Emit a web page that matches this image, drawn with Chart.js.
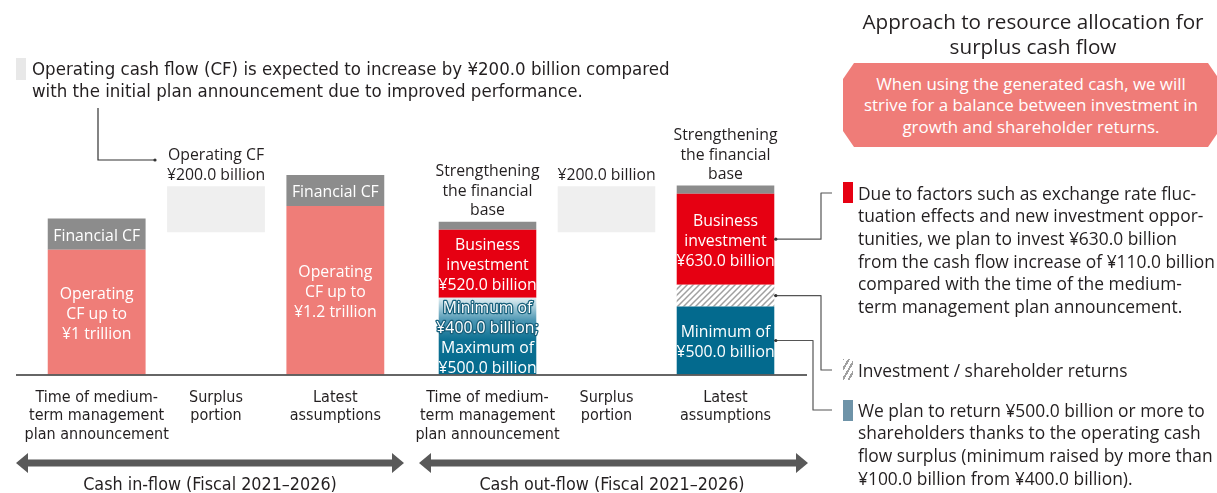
<!DOCTYPE html>
<html>
<head>
<meta charset="utf-8">
<script src="https://cdn.jsdelivr.net/npm/chart.js@4.4.1/dist/chart.umd.min.js"></script>
<style>
  body { margin: 0; width: 1217px; height: 493px; position: relative; overflow: hidden; background: #fff; color: #231f20; font-family: "Open Sans", sans-serif; }
  .abs { position: absolute; }
  .narrow { font-family: "DejaVu Sans Condensed", "Liberation Sans Narrow", sans-serif; }
  #note { left: 32px; top: 58px; font-size: 18.5px; line-height: 22px; white-space: nowrap; }
  #noteMark { left: 16px; top: 58px; width: 10px; height: 22px; background: #e8e8e8; }
  .flow { top: 473px; font-size: 17.8px; line-height: 22px; width: 390px; text-align: center; }
  #title { left: 843px; top: 9px; width: 380px; text-align: center; font-size: 20.7px; line-height: 25px; }
  #policy { left: 843px; top: 63px; width: 376px; height: 84px; background: #ef7c78; color: #fff;
    font-size: 16.9px; line-height: 21.5px; text-align: center; display: flex; align-items: center; justify-content: center;
    clip-path: polygon(11px 0, calc(100% - 11px) 0, 100% 16px, 100% calc(100% - 16px), calc(100% - 11px) 100%, 11px 100%, 0 calc(100% - 16px), 0 16px); }
  .mark { left: 843px; width: 10px; height: 21px; }
  .side { left: 858px; font-size: 17.4px; line-height: 22.7px; white-space: nowrap; }
</style>
</head>
<body>
<div style="position:absolute;left:0;top:0;"><canvas id="inflow" width="420" height="493"></canvas></div>
<div style="position:absolute;left:390px;top:0;"><canvas id="outflow" width="460" height="493"></canvas></div>

<svg class="abs" style="left:0;top:0" width="1217" height="493">
  <polyline points="98,108 98,160 155,160" fill="none" stroke="#333" stroke-width="1.2"/>
  <circle cx="155" cy="160" r="1.6" fill="#333"/>
  <line x1="16" y1="375" x2="807" y2="375" stroke="#333" stroke-width="1.5"/>
  <polygon points="16,463 28,453 28,459.5 392,459.5 392,453 404,463 392,473 392,466.5 28,466.5 28,473" fill="#595959"/>
  <polygon points="419,463 431,453 431,459.5 796,459.5 796,453 808,463 796,473 796,466.5 431,466.5 431,473" fill="#595959"/>
</svg>

<div id="noteMark" class="abs"></div>
<div id="note" class="abs narrow">Operating cash flow (CF) is expected to increase by ¥200.0 billion compared<br>with the initial plan announcement due to improved performance.</div>
<div class="abs narrow flow" style="left:15px">Cash in-flow (Fiscal 2021–2026)</div>
<div class="abs narrow flow" style="left:417px">Cash out-flow (Fiscal 2021–2026)</div>

<div id="title" class="abs">Approach to resource allocation for<br>surplus cash flow</div>
<div id="policy" class="abs"><div>When using the generated cash, we will<br>strive for a balance between investment in<br>growth and shareholder returns.</div></div>

<div class="abs mark" style="top:182px;background:#e60012"></div>
<div class="abs side" style="top:181.6px">Due to factors such as exchange rate fluc-<br>tuation effects and new investment oppor-<br>tunities, we plan to invest ¥630.0 billion<br>from the cash flow increase of ¥110.0 billion<br>compared with the time of the medium-<br>term management plan announcement.</div>
<div class="abs mark" style="top:359px;background:repeating-linear-gradient(-60deg,#fff 0 3px,#a0a0a0 3px 5px)"></div>
<div class="abs side" style="top:358.6px">Investment / shareholder returns</div>
<div class="abs mark" style="top:400px;background:#6e93a8"></div>
<div class="abs side" style="top:398.6px">We plan to return ¥500.0 billion or more to<br>shareholders thanks to the operating cash<br>flow surplus (minimum raised by more than<br>¥100.0 billion from ¥400.0 billion).</div>

<script>
// categories (same three stages on both sides)
const categories = [['Time of medium-', 'term management', 'plan announcement'], ['Surplus', 'portion'], ['Latest', 'assumptions']];

// bar heights, roughly in ¥ billion (the drawing is not to scale)
const inOperatingCF = [1000, null, 1350];
const inFinancialCF = [250, null, 250];
const inSurplus = [null, [1140, 1510], null];

const outReturns = [615, null, 545];
const outEither = [null, null, 175];
const outInvestment = [545, null, 730];
const outFinancialBase = [65, null, 65];
const outSurplus = [null, [1140, 1510], null];

const yMax = 1920;

// texts inside and above the bars
const inOperatingLabels = [['Operating', 'CF up to', '¥1 trillion'], null, ['Operating', 'CF up to', '¥1.2 trillion']];
const inFinancialLabels = [['Financial CF'], null, ['Financial CF']];
const outInvestmentLabels = [['Business', 'investment', '¥520.0 billion'], null, ['Business', 'investment', '¥630.0 billion']];
const outReturnsLabels = [['Minimum of', '¥400.0 billion;', 'Maximum of', '¥500.0 billion'], null, ['Minimum of', '¥500.0 billion']];
const inTopNotes = [null, ['Operating CF', '¥200.0 billion'], null];
const outTopNotes = [['Strengthening', 'the financial', 'base'], ['¥200.0 billion'], ['Strengthening', 'the financial', 'base']];

const SALMON = '#ef7d78', GREY = '#8c8c8c', PALE = '#efefef', RED = '#e60012', BLUE = '#036a8e';
const LABEL_FONT = '15.8px "Open Sans"';

function hatchPattern() {
  const c = document.createElement('canvas');
  c.width = c.height = 6;
  const g = c.getContext('2d');
  g.fillStyle = '#fff';
  g.fillRect(0, 0, 6, 6);
  g.strokeStyle = '#a0a0a0';
  g.lineWidth = 1.5;
  g.beginPath();
  g.moveTo(0, 6); g.lineTo(6, 0);
  g.moveTo(-1, 1); g.lineTo(1, -1);
  g.moveTo(5, 7); g.lineTo(7, 5);
  g.stroke();
  return g.createPattern(c, 'repeat');
}

function returnsColor(ctx) {
  if (ctx.dataIndex !== 0) return BLUE;
  const y = ctx.chart.scales.y;
  if (!ctx.chart.chartArea || !y) return BLUE;
  const top = y.getPixelForValue(outReturns[0]), bottom = y.getPixelForValue(0);
  if (!isFinite(top) || !isFinite(bottom)) return BLUE;
  const g = ctx.chart.ctx.createLinearGradient(0, top, 0, bottom);
  g.addColorStop(0, '#e3eff3');
  g.addColorStop(0.3, '#4a95b2');
  g.addColorStop(0.55, '#0d7193');
  g.addColorStop(1, BLUE);
  return g;
}

function barText(notes, connectors) {
  return {
    id: 'barText',
    afterDatasetsDraw(chart) {
      const ctx = chart.ctx;
      ctx.save();
      ctx.textAlign = 'center';
      ctx.textBaseline = 'middle';
      ctx.font = LABEL_FONT;
      chart.data.datasets.forEach((ds, i) => {
        if (!ds.inLabels) return;
        chart.getDatasetMeta(i).data.forEach((bar, j) => {
          const lines = ds.inLabels[j];
          if (!lines) return;
          const mid = (bar.y + bar.base) / 2 + 2;
          lines.forEach((t, k) => {
            const y = mid + (k - (lines.length - 1) / 2) * 20;
            if (ds.outlineFirst && j === 0 && k < 2) {
              ctx.strokeStyle = '#17607c';
              ctx.lineWidth = 2.5;
              ctx.lineJoin = 'round';
              ctx.strokeText(t, bar.x, y);
            }
            ctx.fillStyle = '#fff';
            ctx.fillText(t, bar.x, y);
          });
        });
      });
      notes.forEach((lines, j) => {
        if (!lines) return;
        let top = Infinity, x = 0;
        chart.data.datasets.forEach((ds, i) => {
          const bar = chart.getDatasetMeta(i).data[j];
          if (ds.data[j] == null || !bar) return;
          top = Math.min(top, bar.y, bar.base);
          x = bar.x;
        });
        ctx.fillStyle = '#231f20';
        lines.forEach((t, k) => {
          ctx.fillText(t, x, top - 11 - (lines.length - 1 - k) * 19.5);
        });
      });
      connectors.forEach(c => {
        const bar = chart.getDatasetMeta(c.dataset).data[c.index];
        const x0 = bar.x + bar.width / 2, y0 = (bar.y + bar.base) / 2;
        ctx.strokeStyle = '#555';
        ctx.lineWidth = 1.2;
        ctx.beginPath();
        ctx.moveTo(x0, y0);
        ctx.lineTo(c.elbowX, y0);
        ctx.lineTo(c.elbowX, c.endY);
        ctx.lineTo(c.endX, c.endY);
        ctx.stroke();
        ctx.fillStyle = '#333';
        ctx.beginPath();
        ctx.arc(x0 + 1.5, y0, 1.6, 0, Math.PI * 2);
        ctx.fill();
      });
      ctx.restore();
    }
  };
}

function options(padLeft, padRight) {
  return {
    responsive: false,
    animation: false,
    layout: { padding: { left: padLeft, right: padRight, top: 135, bottom: 35 } },
    plugins: { legend: { display: false }, tooltip: { enabled: false } },
    datasets: { bar: { barPercentage: 0.82, categoryPercentage: 1, borderWidth: 0 } },
    scales: {
      x: {
        stacked: true,
        grid: { display: false, drawTicks: false },
        border: { display: false },
        ticks: {
          maxRotation: 0, minRotation: 0, autoSkip: false, padding: 14, color: '#231f20',
          font: { family: '"DejaVu Sans Condensed", "Liberation Sans Narrow", sans-serif', size: 16, lineHeight: '18.5px' }
        }
      },
      y: { stacked: true, display: false, min: 0, max: yMax }
    }
  };
}

new Chart(document.getElementById('inflow'), {
  type: 'bar',
  data: {
    labels: categories,
    datasets: [
      { label: 'Operating CF', data: inOperatingCF, backgroundColor: SALMON, inLabels: inOperatingLabels },
      { label: 'Financial CF', data: inFinancialCF, backgroundColor: GREY, inLabels: inFinancialLabels },
      { label: 'Surplus', data: inSurplus, backgroundColor: PALE }
    ]
  },
  options: options(37, 25),
  plugins: [barText(inTopNotes, [])]
});

new Chart(document.getElementById('outflow'), {
  type: 'bar',
  data: {
    labels: categories,
    datasets: [
      { label: 'Shareholder returns', data: outReturns, backgroundColor: returnsColor, inLabels: outReturnsLabels, outlineFirst: true },
      { label: 'Investment / shareholder returns', data: outEither, backgroundColor: hatchPattern() },
      { label: 'Business investment', data: outInvestment, backgroundColor: RED, inLabels: outInvestmentLabels },
      { label: 'Strengthening the financial base', data: outFinancialBase, backgroundColor: GREY },
      { label: 'Surplus', data: outSurplus, backgroundColor: PALE }
    ]
  },
  options: options(38, 65),
  plugins: [barText(outTopNotes, [
    { dataset: 2, index: 2, elbowX: 431, endY: 193, endX: 442 },
    { dataset: 1, index: 2, elbowX: 431, endY: 370, endX: 442 },
    { dataset: 0, index: 2, elbowX: 423, endY: 410, endX: 442 }
  ])]
});
</script>
</body>
</html>
